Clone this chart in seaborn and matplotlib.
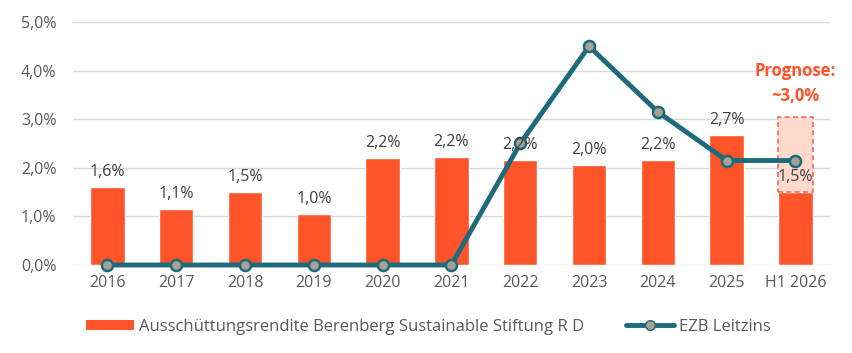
import matplotlib
matplotlib.use('Agg')
import matplotlib.pyplot as plt
import seaborn as sns
import pandas as pd
from matplotlib.patches import Patch, Rectangle
from matplotlib.lines import Line2D

years = ['2016', '2017', '2018', '2019', '2020', '2021', '2022', '2023', '2024', '2025', 'H1 2026']
rendite = [1.6, 1.15, 1.5, 1.05, 2.2, 2.22, 2.17, 2.05, 2.17, 2.68, 1.5]
rendite_labels = ['1,6%', '1,1%', '1,5%', '1,0%', '2,2%', '2,2%', '2,2%', '2,0%', '2,2%', '2,7%', '1,5%']
leitzins = [0.0, 0.0, 0.0, 0.0, 0.0, 0.0, 2.5, 4.5, 3.15, 2.15, 2.15]
prognose = 3.05

orange = '#ff5329'
teal = '#1d6a7c'
grey_text = '#595959'

df = pd.DataFrame({'Jahr': years, 'Rendite': rendite, 'Leitzins': leitzins})

sns.set_theme(style='white')
plt.rcParams['font.family'] = ['Open Sans', 'DejaVu Sans']

fig = plt.figure(figsize=(8.52, 3.53), dpi=100)
ax = fig.add_axes([0.0857, 0.2493, 0.8883, 0.6884])

# Bars
sns.barplot(data=df, x='Jahr', y='Rendite', color=orange, width=0.5, saturation=1, ax=ax, zorder=2)

# Prognose box for last period
last = len(years) - 1
ax.add_patch(Rectangle((last - 0.26, rendite[-1]), 0.52, prognose - rendite[-1],
                       facecolor='#ffd9cc', edgecolor='#f26b55', linestyle=(0, (3, 2)),
                       linewidth=1.2, zorder=2.5))

# Line
sns.lineplot(data=df, x='Jahr', y='Leitzins', color=teal, linewidth=3.5, marker='o',
             markersize=8, markerfacecolor='#a7a293', markeredgecolor=teal,
             markeredgewidth=1.8, sort=False, ax=ax, zorder=4, clip_on=False)

# Value labels
for i, (v, lab) in enumerate(zip(rendite, rendite_labels)):
    ax.annotate(lab, (i, v), xytext=(0, 5), textcoords='offset points',
                ha='center', va='bottom', fontsize=11.5, color='#404040', zorder=5)

ax.text(last, 3.3, 'Prognose:\n~3,0%', ha='center', va='bottom', fontsize=12,
        fontweight='bold', color=orange, linespacing=1.5, zorder=5)

ax.set_ylim(0, 5)
ax.set_xlim(-0.5, len(years) - 0.5)
ax.set_yticks([0, 1, 2, 3, 4, 5])
ax.set_yticklabels(['0,0%', '1,0%', '2,0%', '3,0%', '4,0%', '5,0%'])
ax.yaxis.grid(True, color='#d9d9d9', linewidth=1)
ax.set_axisbelow(True)
ax.set_xlabel('')
ax.set_ylabel('')
ax.tick_params(axis='both', length=0, labelsize=11.5, labelcolor=grey_text)
ax.tick_params(axis='y', pad=12)
ax.tick_params(axis='x', pad=7)
for s in ax.spines.values():
    s.set_visible(False)

handles = [Patch(facecolor=orange, edgecolor='none'),
           Line2D([0], [0], color=teal, linewidth=3.5, marker='o', markersize=7,
                  markerfacecolor='#a7a293', markeredgecolor=teal)]
fig.legend(handles, ['Ausschüttungsrendite Berenberg Sustainable Stiftung R D', 'EZB Leitzins'],
           loc='center', bbox_to_anchor=(0.503, 0.075), ncol=2, frameon=False,
           fontsize=12, labelcolor=grey_text, handlelength=2.9, handleheight=0.55,
           columnspacing=2.5, handletextpad=0.3)

fig.savefig('out.png', dpi=100)
plt.close(fig)
